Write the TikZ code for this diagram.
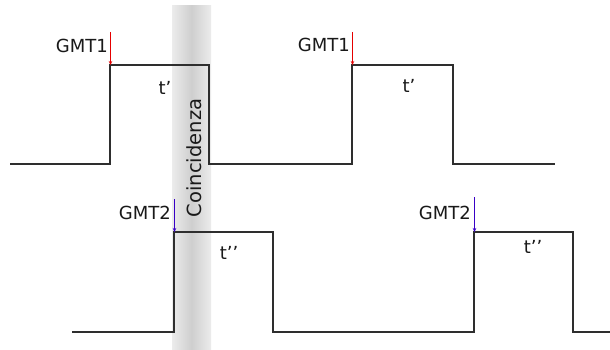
\documentclass[tikz,border=0pt]{standalone}
\usepackage{fontspec}
\setmainfont{DejaVu Sans}
\usetikzlibrary{arrows.meta}
\begin{document}
\begin{tikzpicture}[x=1pt,y=-1pt,
  wave/.style={draw=black!82, line width=1.7pt, line join=miter},
  lbl/.style={inner sep=0pt, font=\fontsize{18}{21}\selectfont, text=black!90},
  marka/.style={color=red!90!black, line width=1.2pt, -{Stealth[length=4pt,width=3.5pt]}},
  markb/.style={color=blue!55!violet, line width=1.2pt, -{Stealth[length=4pt,width=3.5pt]}}]
\useasboundingbox (0,0) rectangle (610,350);
\fill[white] (0,0) rectangle (610,350);
% coincidence band
\shade[left color=gray!15, right color=gray!15, middle color=gray!38] (172,6) rectangle (211,350);
\node[lbl, rotate=90, font=\fontsize{19.5}{22}\selectfont] (coinc) at (194,158) {Coincidenza};
% top waveform
\draw[wave] (10,164) -- (110,164) -- (110,65) -- (209,65) -- (209,164) -- (352,164) -- (352,65) -- (453,65) -- (453,164) -- (555,164);
% bottom waveform
\draw[wave] (72,332) -- (174,332) -- (174,232) -- (273,232) -- (273,332) -- (474,332) -- (474,232) -- (573,232) -- (573,332) -- (610,332);
% markers
\coordinate (a1s) at (110.5,32); \coordinate (a1e) at (110.5,65);
\coordinate (a2s) at (352.5,32); \coordinate (a2e) at (352.5,65);
\coordinate (b1s) at (174.5,199); \coordinate (b1e) at (174.5,232);
\coordinate (b2s) at (474.5,197); \coordinate (b2e) at (474.5,232);
\draw[marka] (a1s) -- (a1e);
\draw[marka] (a2s) -- (a2e);
\draw[markb] (b1s) -- (b1e);
\draw[markb] (b2s) -- (b2e);
\node[lbl, anchor=east] (g1a) at (108,46) {GMT1};
\node[lbl, anchor=east] (g1b) at (350,45) {GMT1};
\node[lbl, anchor=east] (g2a) at (171,213) {GMT2};
\node[lbl, anchor=east] (g2b) at (471,213) {GMT2};
\node[lbl] (t1a) at (165,88) {t’};
\node[lbl] (t1b) at (409,86) {t’};
\node[lbl] (t2a) at (229,253) {t’’};
\node[lbl] (t2b) at (533,247) {t’’};
\end{tikzpicture}
\end{document}
